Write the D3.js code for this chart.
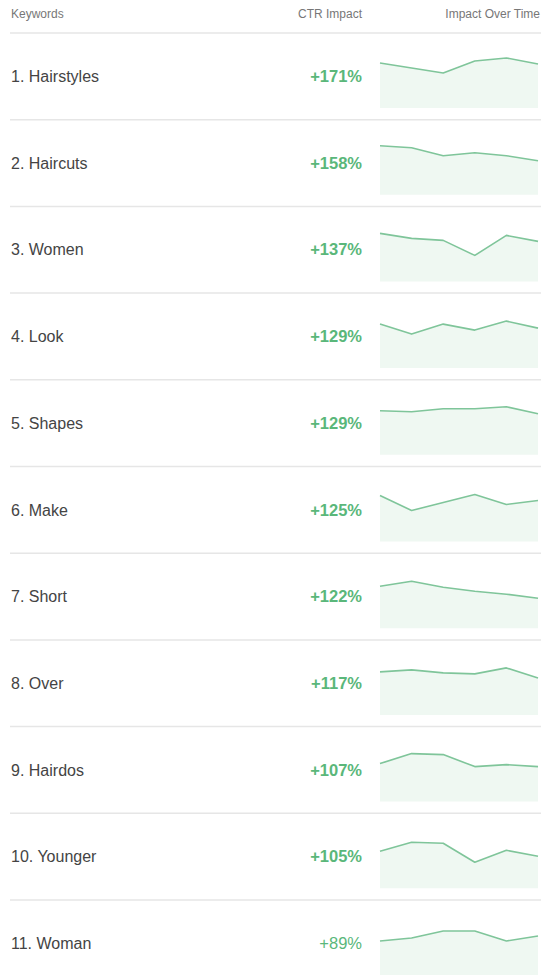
<!DOCTYPE html>
<html>
<head>
<meta charset="utf-8">
<script src="https://cdn.jsdelivr.net/npm/d3@7"></script>
<style>
  html, body { margin: 0; padding: 0; background: #fff; }
  svg { display: block; font-family: "Liberation Sans", Arial, sans-serif; }
</style>
</head>
<body>
<svg id="chart" width="541" height="975"></svg>
<script>
const keywords = ["Hairstyles","Haircuts","Women","Look","Shapes","Make","Short","Over","Hairdos","Younger","Woman"];
const ctrImpact = [171,158,137,129,129,125,122,117,107,105,89];
const headers = ["Keywords","CTR Impact","Impact Over Time"];
const periods = [1,2,3,4,5,6];
const trend1  = [45,40,35,47,50,44];
const trend2  = [49,47,39,42,39,34];
const trend3  = [48,43,41,26,46,40];
const trend4  = [44,34,44,38,47,40];
const trend5  = [44,43,46,46,48,41];
const trend6  = [46,31,39,47,37,41];
const trend7  = [42,47,41,37,34,30];
const trend8  = [43,45,42,41,47,37];
const trend9  = [38,48,47,35,37,35];
const trend10 = [37,46,45,26,38,32];
const trend11 = [34,37,44,44,34,39];
const trends = [trend1,trend2,trend3,trend4,trend5,trend6,trend7,trend8,trend9,trend10,trend11];

const svg = d3.select("#chart");
const W = 541;
const headerLineY = 33;
const rowH = 86.7;

const rowY = d3.scaleLinear().domain([0, 1]).range([headerLineY, headerLineY + rowH]);
const xSpark = d3.scaleLinear().domain([1, 6]).range([380, 538]);
const ySpark = d3.scaleLinear().domain([0, 50]).range([75, 25]);

// header
const hdr = svg.append("g").attr("font-size", 12).attr("fill", "#777");
hdr.append("text").attr("x", 11).attr("y", 18).text(headers[0]);
hdr.append("text").attr("x", 362).attr("y", 18).attr("text-anchor", "end").text(headers[1]);
hdr.append("text").attr("x", 540).attr("y", 18).attr("text-anchor", "end").text(headers[2]);

svg.append("line").attr("x1", 10).attr("x2", W).attr("y1", headerLineY).attr("y2", headerLineY)
  .attr("stroke", "#e6e6e6").attr("stroke-width", 1.5);

const area = d3.area().x((d, i) => xSpark(periods[i])).y0(ySpark(0)).y1(d => ySpark(d));
const line = d3.line().x((d, i) => xSpark(periods[i])).y(d => ySpark(d));

keywords.forEach((k, i) => {
  const g = svg.append("g").attr("transform", `translate(0,${rowY(i)})`);
  g.append("text").attr("x", 11).attr("y", 49).attr("font-size", 16).attr("fill", "#444")
    .text(`${i + 1}. ${k}`);
  g.append("text").attr("x", 362).attr("y", 49).attr("font-size", 16.5)
    .attr("font-weight", ctrImpact[i] >= 100 ? "bold" : "normal")
    .attr("text-anchor", "end").attr("fill", "#5ab77a")
    .text(`+${ctrImpact[i]}%`);
  g.append("path").datum(trends[i]).attr("d", area).attr("fill", "#eff8f2");
  g.append("path").datum(trends[i]).attr("d", line).attr("fill", "none")
    .attr("stroke", "#7fc59a").attr("stroke-width", 1.6).attr("stroke-linejoin", "round");
  if (i < keywords.length - 1) {
    g.append("line").attr("x1", 10).attr("x2", W).attr("y1", rowH).attr("y2", rowH)
      .attr("stroke", "#e6e6e6").attr("stroke-width", 1.5);
  }
});
</script>
</body>
</html>
